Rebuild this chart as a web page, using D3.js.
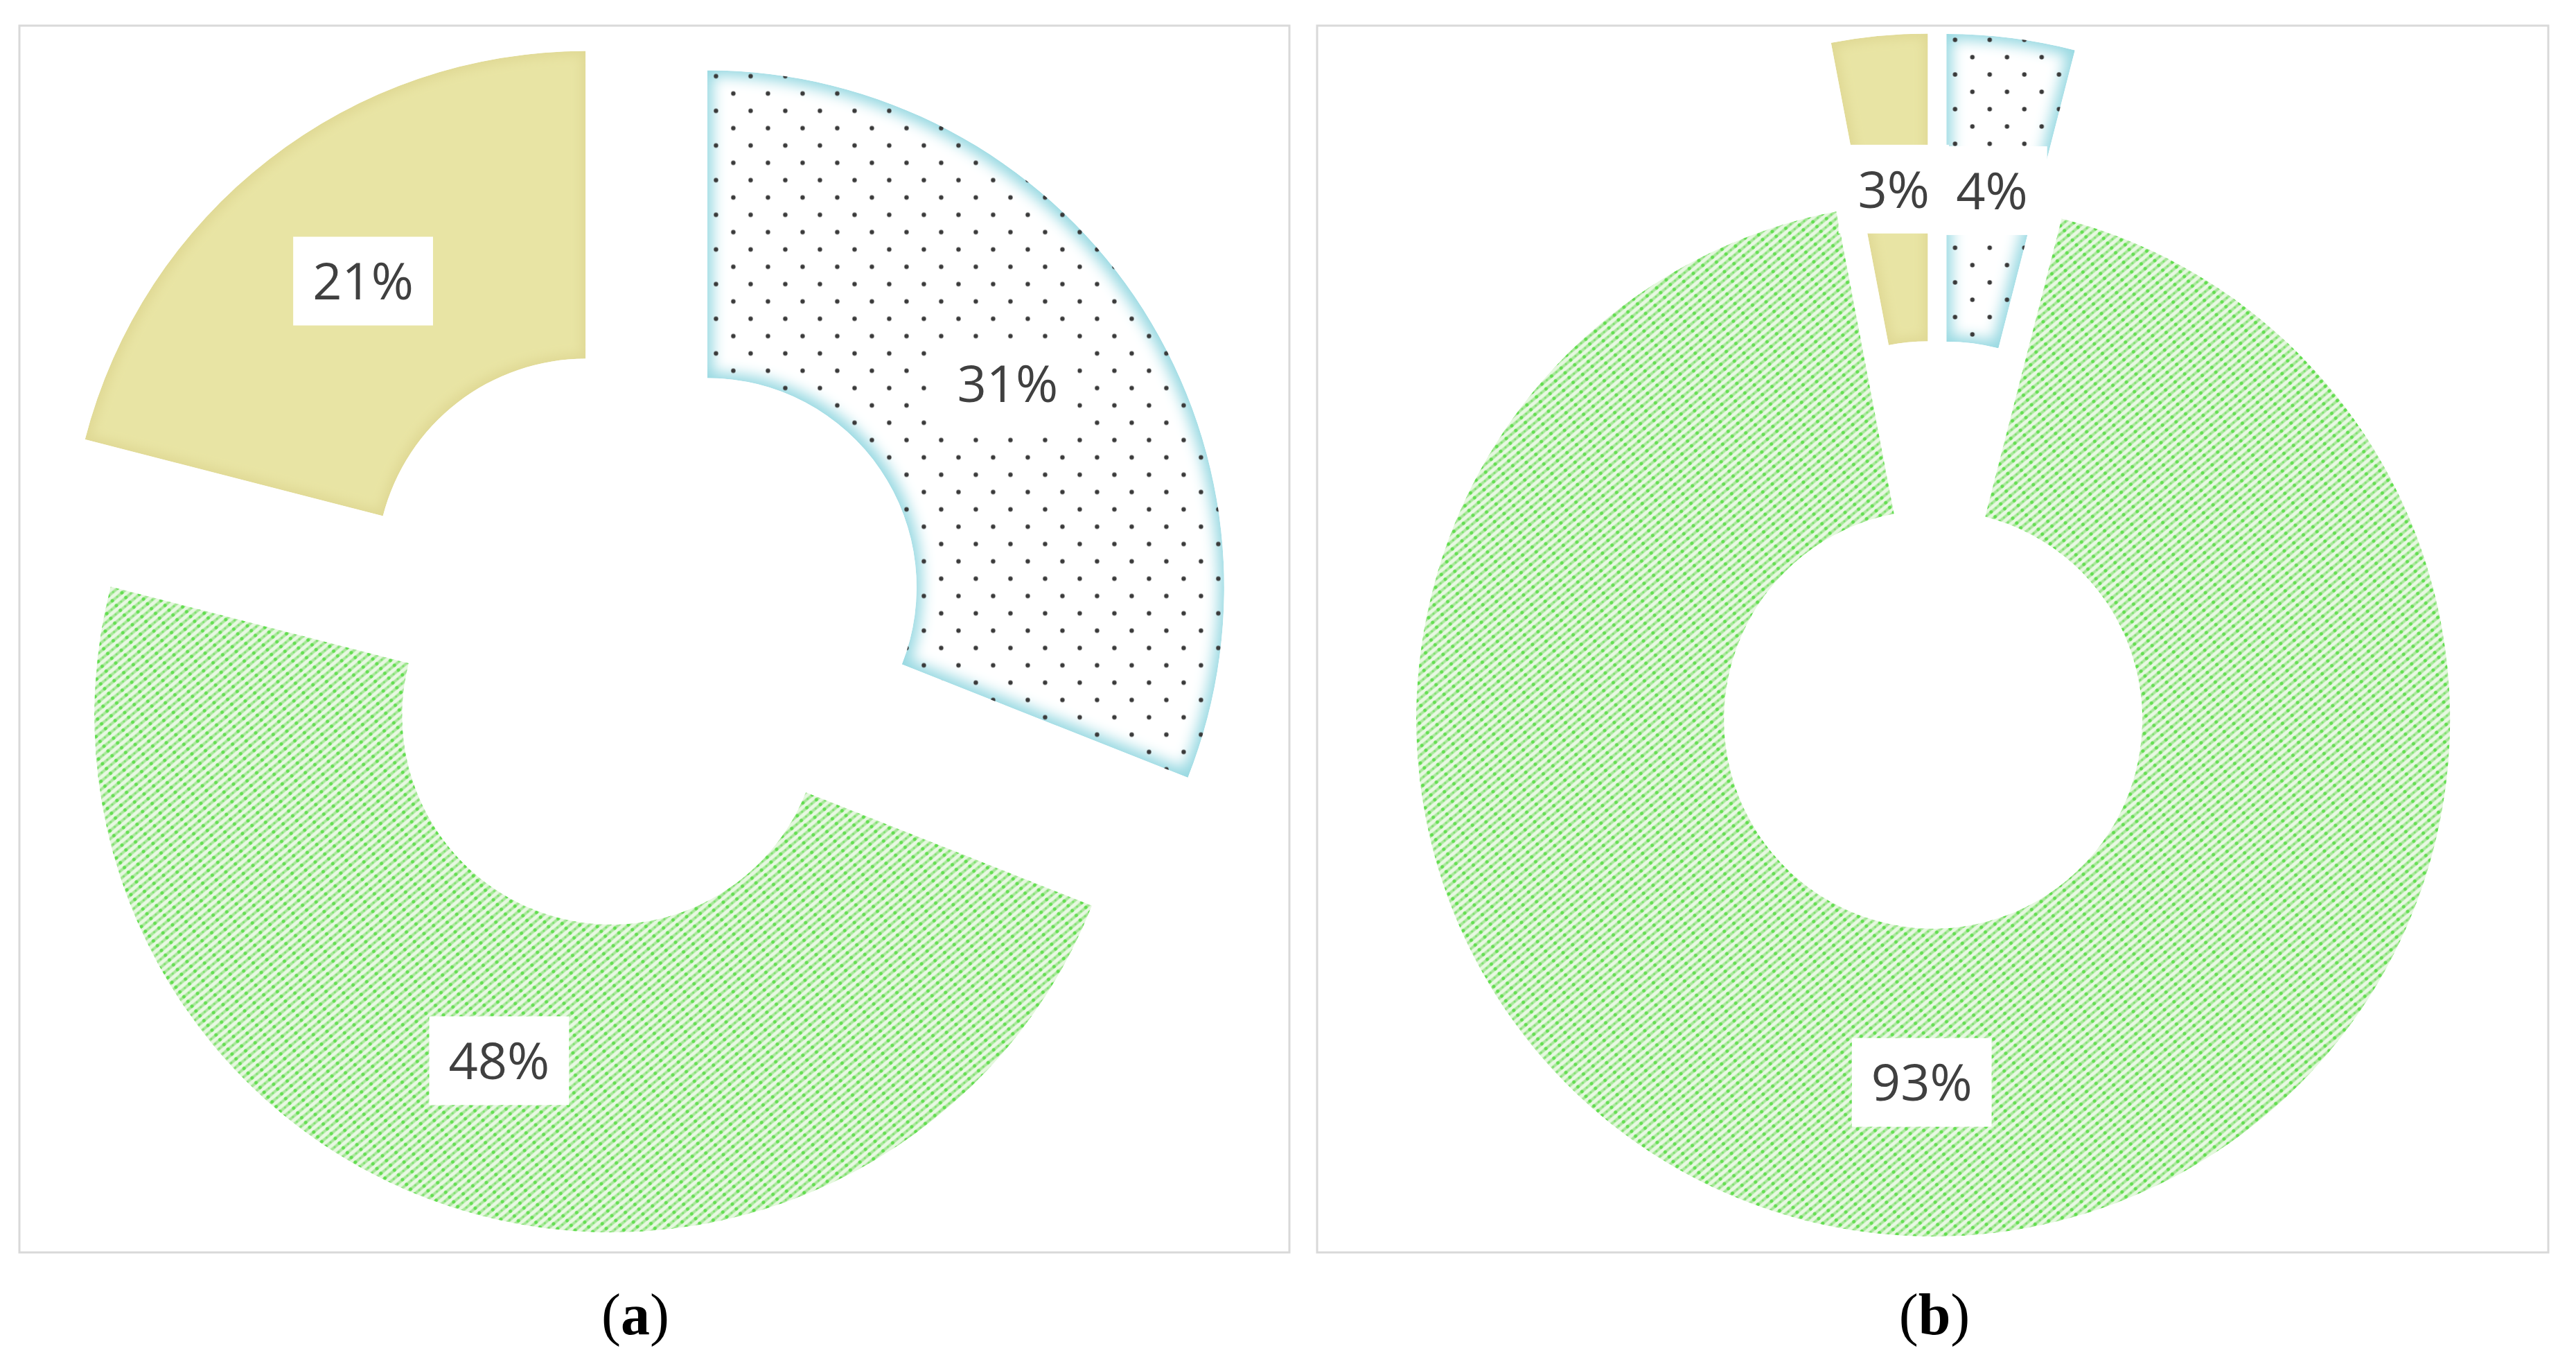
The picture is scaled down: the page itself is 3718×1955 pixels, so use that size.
<!DOCTYPE html>
<html>
<head>
<meta charset="utf-8">
<script src="https://cdn.jsdelivr.net/npm/d3@7"></script>
<style>
  body { margin: 0; background: #fff; }
</style>
</head>
<body>
<svg></svg>
<script>
// data
const shares_a = [31, 48, 21];
const shares_b = [4, 93, 3];
const sliceKinds = ["dots", "hatch", "solid"];
const captions = ["a", "b"];

const W = 3718, H = 1955;

// layout
const panelBoxes = [
    {x0: 28, y0: 37, x1: 1861, y1: 1807, cx: 920, capX: 917},
    {x0: 1901, y0: 37, x1: 3678, y1: 1807, cx: 2794, capX: 2792}
];
const cy = 916,
    outerR = 746,
    innerR = 302,
    explode = 122;

const svg = d3.select("svg")
    .attr("width", W)
    .attr("height", H);

const defs = svg.append("defs");

// dotted fill
const dots = defs.append("pattern")
    .attr("id", "dots")
    .attr("patternUnits", "userSpaceOnUse")
    .attr("width", 50)
    .attr("height", 50);
dots.append("circle").attr("cx", 12.5).attr("cy", 12.5).attr("r", 3.2).attr("fill", "#3a3a3a");
dots.append("circle").attr("cx", 37.5).attr("cy", 37.5).attr("r", 3.2).attr("fill", "#3a3a3a");

// green diagonal hatch
const hatch = defs.append("pattern")
    .attr("id", "hatch")
    .attr("patternUnits", "userSpaceOnUse")
    .attr("width", 18)
    .attr("height", 9)
    .attr("patternTransform", "rotate(-40)");
hatch.append("rect").attr("width", 18).attr("height", 9).attr("fill", "#e3f7dc");
hatch.append("rect").attr("y", 2.6).attr("width", 18).attr("height", 4).attr("fill", "#93e281");
hatch.append("circle").attr("cx", 4.5).attr("cy", 4.6).attr("r", 2.5).attr("fill", "#3dd626");
hatch.append("circle").attr("cx", 13.5).attr("cy", 4.6).attr("r", 1.6).attr("fill", "#5edb4b");

// soft inner edge
function glow(id, edge, inner, er, sd) {
    const f = defs.append("filter")
        .attr("id", id)
        .attr("color-interpolation-filters", "sRGB")
        .attr("x", "-5%").attr("y", "-5%")
        .attr("width", "110%").attr("height", "110%");
    f.append("feFlood").attr("flood-color", edge).attr("result", "edgeC");
    f.append("feComposite").attr("in", "edgeC").attr("in2", "SourceAlpha").attr("operator", "in").attr("result", "edgeS");
    f.append("feMorphology").attr("in", "SourceAlpha").attr("operator", "erode").attr("radius", er).attr("result", "er");
    f.append("feGaussianBlur").attr("in", "er").attr("stdDeviation", sd).attr("result", "bl");
    f.append("feFlood").attr("flood-color", inner).attr("result", "innerC");
    f.append("feComposite").attr("in", "innerC").attr("in2", "bl").attr("operator", "in").attr("result", "innerS");
    const m = f.append("feMerge").attr("result", "m");
    m.append("feMergeNode").attr("in", "edgeS");
    m.append("feMergeNode").attr("in", "innerS");
    f.append("feComposite").attr("in", "m").attr("in2", "SourceAlpha").attr("operator", "in");
}
glow("glowBlue", "#98d9e2", "#ffffff", 8, 10);
glow("glowYellow", "#e0d995", "#e8e4a4", 6, 8);
glow("glowGreen", "#e8f8e2", "#ffffff", 4, 6);

const pie = d3.pie().sort(null).value(d => d);
const arc = d3.arc().innerRadius(innerR).outerRadius(outerR);

function drawPanel(values, box, caption) {
    svg.append("rect")
        .attr("x", box.x0).attr("y", box.y0)
        .attr("width", box.x1 - box.x0).attr("height", box.y1 - box.y0)
        .attr("fill", "#fff")
        .attr("stroke", "#d9d9d9")
        .attr("stroke-width", 3);

    const g = svg.append("g").attr("transform", `translate(${box.cx},${cy})`);
    const arcs = pie(values);
    const shift = d => {
        const a = (d.startAngle + d.endAngle) / 2;
        return [explode * Math.sin(a), -explode * Math.cos(a)];
    };

    const slices = g.selectAll(".slice")
        .data(arcs)
        .join("g")
        .attr("class", "slice")
        .attr("transform", d => `translate(${shift(d)})`);

    slices.each(function(d, i) {
        const s = d3.select(this);
        const kind = sliceKinds[i];
        if (kind === "dots") {
            s.append("path").attr("d", arc(d)).attr("fill", "#fff").attr("filter", "url(#glowBlue)");
            s.append("path").attr("d", arc(d)).attr("fill", "url(#dots)");
        } else if (kind === "hatch") {
            s.append("path").attr("d", arc(d)).attr("fill", "url(#hatch)");
            s.append("path").attr("d", arc(d)).attr("fill", "#fff").attr("opacity", 0.2).attr("filter", "url(#glowGreen)");
        } else {
            s.append("path").attr("d", arc(d)).attr("fill", "#e8e4a4").attr("filter", "url(#glowYellow)");
        }
    });

    // labels
    const labels = g.selectAll(".lab")
        .data(arcs)
        .join("g")
        .attr("class", "lab")
        .attr("transform", d => {
            const c = arc.centroid(d), o = shift(d);
            return `translate(${c[0] + o[0]},${c[1] + o[1]})`;
        });
    labels.append("rect").attr("fill", "#fff");
    labels.append("text")
        .attr("text-anchor", "middle")
        .attr("dy", "0.36em")
        .style("font-family", "'Open Sans', 'Noto Sans', sans-serif")
        .style("font-size", "74px")
        .attr("fill", "#404040")
        .text(d => d.data + "%");
    labels.each(function() {
        const t = d3.select(this).select("text").node().getBBox();
        d3.select(this).select("rect")
            .attr("x", -t.width / 2 - 28)
            .attr("y", -64)
            .attr("width", t.width + 56)
            .attr("height", 128);
    });

    // caption
    const cap = svg.append("text")
        .attr("x", box.capX)
        .attr("y", 1925)
        .attr("text-anchor", "middle")
        .style("font-family", "'Liberation Serif', 'Times New Roman', serif")
        .style("font-size", "84px")
        .attr("fill", "#000");
    cap.append("tspan").text("(");
    cap.append("tspan").style("font-weight", "bold").text(caption);
    cap.append("tspan").text(")");
}

drawPanel(shares_a, panelBoxes[0], captions[0]);
drawPanel(shares_b, panelBoxes[1], captions[1]);
</script>
</body>
</html>
